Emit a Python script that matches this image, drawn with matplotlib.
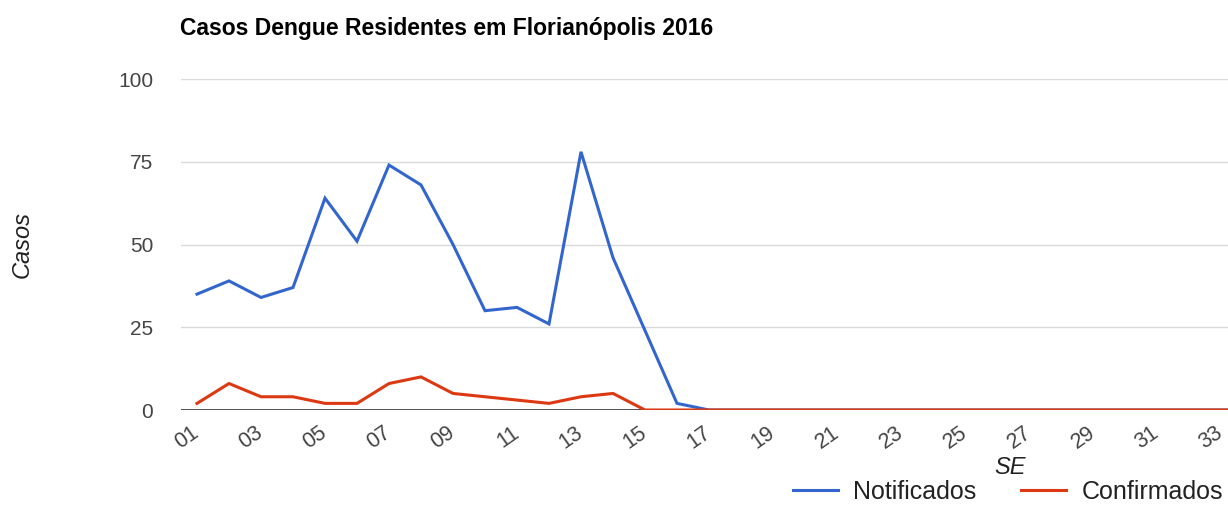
import matplotlib
matplotlib.use('Agg')
import matplotlib.pyplot as plt
from matplotlib.transforms import ScaledTranslation

# semanas epidemiologicas (SE) e casos
semanas = list(range(1, 35))
notificados = [35, 39, 34, 37, 64, 51, 74, 68, 50, 30, 31, 26, 78, 46, 24, 2, 0,
               0, 0, 0, 0, 0, 0, 0, 0, 0, 0, 0, 0, 0, 0, 0, 0, 0]
confirmados = [2, 8, 4, 4, 2, 2, 8, 10, 5, 4, 3, 2, 4, 5, 0, 0, 0,
               0, 0, 0, 0, 0, 0, 0, 0, 0, 0, 0, 0, 0, 0, 0, 0, 0]
# only the labels visible in the cropped screenshot
tick_semanas = list(range(1, 34, 2))
tick_labels = ['%02d' % s for s in tick_semanas]
y_ticks = [0, 25, 50, 75, 100]

plt.rcParams['font.family'] = ['Liberation Sans', 'DejaVu Sans']

W, H = 1228, 508
fig = plt.figure(figsize=(W / 100, H / 100), dpi=100)
fig.patch.set_facecolor('white')

# the chart area is wider than the picture (52 weeks), the screenshot cuts it
left, right, top, bottom = 181, 1845, 79, 410
ax = fig.add_axes([left / W, (H - bottom) / H, (right - left) / W, (bottom - top) / H])

ax.plot(semanas, notificados, color='#3366cc', lw=2.2, label='Notificados',
        solid_joinstyle='miter', zorder=3)
ax.plot(semanas, confirmados, color='#dc3912', lw=2.2, label='Confirmados',
        solid_joinstyle='miter', zorder=4)

ax.set_xlim(0.5, 52.5)
ax.set_ylim(0, 100)
ax.set_yticks(y_ticks)
ax.set_yticklabels([str(v) for v in y_ticks])
ax.set_xticks(tick_semanas)
ax.set_xticklabels(tick_labels, rotation=35, ha='right', rotation_mode='anchor')
ax.tick_params(axis='both', length=0, colors='#444444')
ax.tick_params(axis='y', pad=20, labelsize=15)
ax.tick_params(axis='x', pad=9, labelsize=15.5)
shift = ScaledTranslation(-6 / 100, 0, fig.dpi_scale_trans)
for lab in ax.get_xticklabels():
    lab.set_transform(lab.get_transform() + shift)

for v in y_ticks[1:]:
    ax.axhline(v, color='#d9d9d9', lw=1, zorder=1)
ax.axhline(0, color='#333333', lw=1.2, zorder=2)
for s in ax.spines.values():
    s.set_visible(False)

fig.text(1010 / W, (H - 468) / H, 'SE', ha='center', va='center',
         fontsize=17, style='italic', color='#222222')
fig.text(22 / W, (H - 244) / H, 'Casos', rotation=90, ha='center', va='center',
         fontsize=17, style='italic', color='#222222')
fig.text(180 / W, (H - 28) / H, 'Casos Dengue Residentes em Florian\u00f3polis 2016',
         ha='left', va='center', fontsize=16.5, fontweight='bold', color='#000000')

fig.legend(loc='center', bbox_to_anchor=(1008 / W, (H - 492) / H), ncol=2,
           frameon=False, fontsize=18, handlelength=1.8, columnspacing=1.8,
           handletextpad=0.6, labelcolor='#222222')

fig.savefig('out.png', dpi=100)
